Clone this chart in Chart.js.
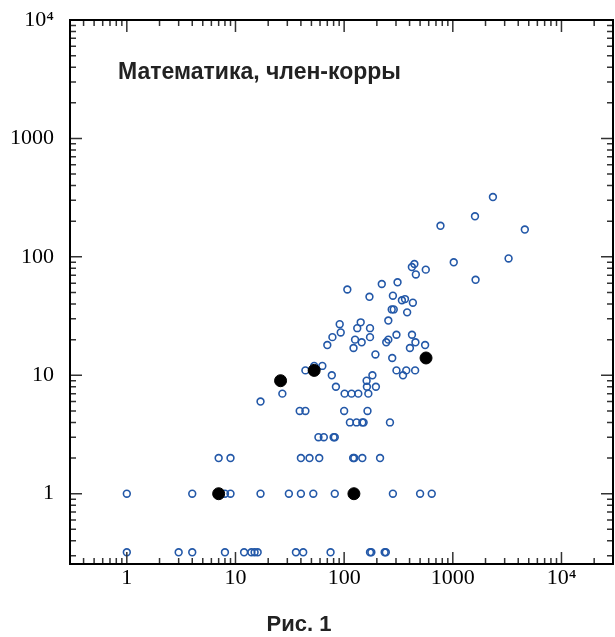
<!DOCTYPE html>
<html lang="ru">
<head>
    <meta charset="UTF-8">
    <title>Математика, член-корры</title>
    <style>
        body {
            margin: 0;
            background: #ffffff;
        }
        .chart-box {
            position: relative;
            width: 615px;
            height: 637px;
        }
    </style>
    <script src="https://cdn.jsdelivr.net/npm/chart.js"></script>
</head>
<body>
    <div class="chart-box">
        <canvas id="scatterChart" width="615" height="637"></canvas>
    </div>

    <script>
        // Подписи
        const chartTitle = 'Математика, член-корры';
        const figCaption = 'Рис. 1';
        const tickValues = [1, 10, 100, 1000, 10000];
        const tickLabels = ['1', '10', '100', '1000', '10\u2074'];

        // Нулевые значения рисуются на нижнем ряду
        const zeroLevel = 0.32;

        // Все члены-корреспонденты (полые кружки)
        const otherX = [
            2340, 1600, 770, 4600, 3260, 1020, 1620, 443, 420, 564, 457,
            107, 222, 310, 171, 281, 340, 363, 429, 274, 286, 380, 255,
            91, 142, 132, 173, 93, 78, 173, 126, 145, 70, 122, 244, 255, 303, 421, 453, 403, 556, 194, 277,
            44, 53, 63, 303, 373, 450, 348, 77, 182, 161, 84, 162, 196, 101, 117, 135, 167, 27, 17,
            39, 44, 100, 164, 113, 130, 147, 151, 264, 58, 65, 80, 82,
            7, 9, 40, 48, 59, 121, 124, 147, 214,
            1, 4, 8, 9, 17, 31, 40, 52, 82, 281, 500, 640,
            1, 3, 4, 8, 12, 14, 15, 16, 36, 42, 75, 173, 178, 236, 242
        ];
        const otherY = [
            320, 220, 183, 170, 97, 90, 64, 87, 82, 78, 71,
            53, 59, 61, 46, 47, 43, 44, 41, 36, 36, 34, 29,
            27, 28, 25, 25, 23, 21, 21, 20, 19, 18, 17, 19, 20, 22, 22, 19, 17, 18, 15, 14,
            11, 12, 12, 11, 11, 11, 10, 10, 10, 9, 8, 8, 8, 7, 7, 7, 7, 7, 6,
            5, 5, 5, 5, 4, 4, 4, 4, 4, 3, 3, 3, 3,
            2, 2, 2, 2, 2, 2, 2, 2, 2,
            1, 1, 1, 1, 1, 1, 1, 1, 1, 1, 1, 1,
            0, 0, 0, 0, 0, 0, 0, 0, 0, 0, 0, 0, 0, 0, 0
        ];

        // Выделенные (чёрные кружки)
        const selX = [26, 53, 567, 7, 123];
        const selY = [9, 11, 14, 1, 1];

        function toPoints(xs, ys) {
            return xs.map((x, i) => ({ x: x, y: ys[i] === 0 ? zeroLevel : ys[i] }));
        }

        const serifFont = { family: "'Liberation Serif', 'Times New Roman', serif", size: 22 };

        // Рамка, внутренние засечки, заголовок и подпись
        const framePlugin = {
            id: 'frame',
            afterDraw(chart) {
                const ctx = chart.ctx;
                const a = chart.chartArea;
                const xs = chart.scales.x;
                const ys = chart.scales.y;
                ctx.save();

                ctx.strokeStyle = '#333';
                ctx.lineWidth = 1.5;
                for (let e = -1; e <= 4; e++) {
                    for (let m = 1; m <= 9; m++) {
                        const v = m * Math.pow(10, e);
                        const len = m === 1 ? 12 : 6;
                        if (v >= xs.min && v <= xs.max) {
                            const px = xs.getPixelForValue(v);
                            ctx.beginPath();
                            ctx.moveTo(px, a.bottom); ctx.lineTo(px, a.bottom - len);
                            ctx.moveTo(px, a.top); ctx.lineTo(px, a.top + len);
                            ctx.stroke();
                        }
                        if (v >= ys.min && v <= ys.max) {
                            const py = ys.getPixelForValue(v);
                            ctx.beginPath();
                            ctx.moveTo(a.left, py); ctx.lineTo(a.left + len, py);
                            ctx.moveTo(a.right, py); ctx.lineTo(a.right - len, py);
                            ctx.stroke();
                        }
                    }
                }

                ctx.strokeStyle = '#000';
                ctx.lineWidth = 2;
                ctx.strokeRect(a.left, a.top, a.right - a.left, a.bottom - a.top);

                ctx.fillStyle = '#222';
                ctx.textBaseline = 'middle';
                ctx.textAlign = 'left';
                ctx.font = "bold 23px 'Liberation Sans', Arial, sans-serif";
                ctx.fillText(chartTitle, 118, 73);

                ctx.textAlign = 'center';
                ctx.font = "bold 22px 'Liberation Sans', Arial, sans-serif";
                ctx.fillText(figCaption, 299, 625);
                ctx.restore();
            }
        };

        function fixedTicks(scale) {
            scale.ticks = tickValues.map(v => ({ value: v }));
        }

        new Chart(document.getElementById('scatterChart'), {
            type: 'scatter',
            data: {
                datasets: [
                    {
                        label: 'Выделенные',
                        data: toPoints(selX, selY),
                        pointRadius: 6,
                        pointBackgroundColor: '#000',
                        pointBorderColor: '#000',
                        pointBorderWidth: 1
                    },
                    {
                        label: 'Члены-корры',
                        data: toPoints(otherX, otherY),
                        pointRadius: 3.4,
                        pointBackgroundColor: 'rgba(255,255,255,0)',
                        pointBorderColor: '#2358a8',
                        pointBorderWidth: 1.6
                    }
                ]
            },
            options: {
                responsive: false,
                animation: false,
                layout: {
                    autoPadding: false,
                    padding: { left: 0, right: 2, top: 20, bottom: 0 }
                },
                plugins: {
                    legend: { display: false },
                    tooltip: { enabled: false }
                },
                scales: {
                    x: {
                        type: 'logarithmic',
                        min: 0.32,
                        max: 29800,
                        grid: { display: false, drawTicks: false, tickLength: 0 },
                        border: { display: false },
                        afterBuildTicks: fixedTicks,
                        afterFit: scale => {
                            scale.height = 73;
                            scale.paddingLeft = 0;
                            scale.paddingRight = 0;
                        },
                        ticks: {
                            autoSkip: false,
                            maxRotation: 0,
                            padding: 1,
                            color: '#000',
                            font: serifFont,
                            callback: (v) => tickLabels[tickValues.indexOf(v)] || ''
                        }
                    },
                    y: {
                        type: 'logarithmic',
                        min: 0.255,
                        max: 10000,
                        grid: { display: false, drawTicks: false, tickLength: 0 },
                        border: { display: false },
                        afterBuildTicks: fixedTicks,
                        afterFit: scale => {
                            scale.width = 70;
                            scale.paddingTop = 0;
                            scale.paddingBottom = 0;
                        },
                        ticks: {
                            autoSkip: false,
                            padding: 16,
                            color: '#000',
                            font: serifFont,
                            callback: (v) => tickLabels[tickValues.indexOf(v)] || ''
                        }
                    }
                }
            },
            plugins: [framePlugin]
        });
    </script>
</body>
</html>
